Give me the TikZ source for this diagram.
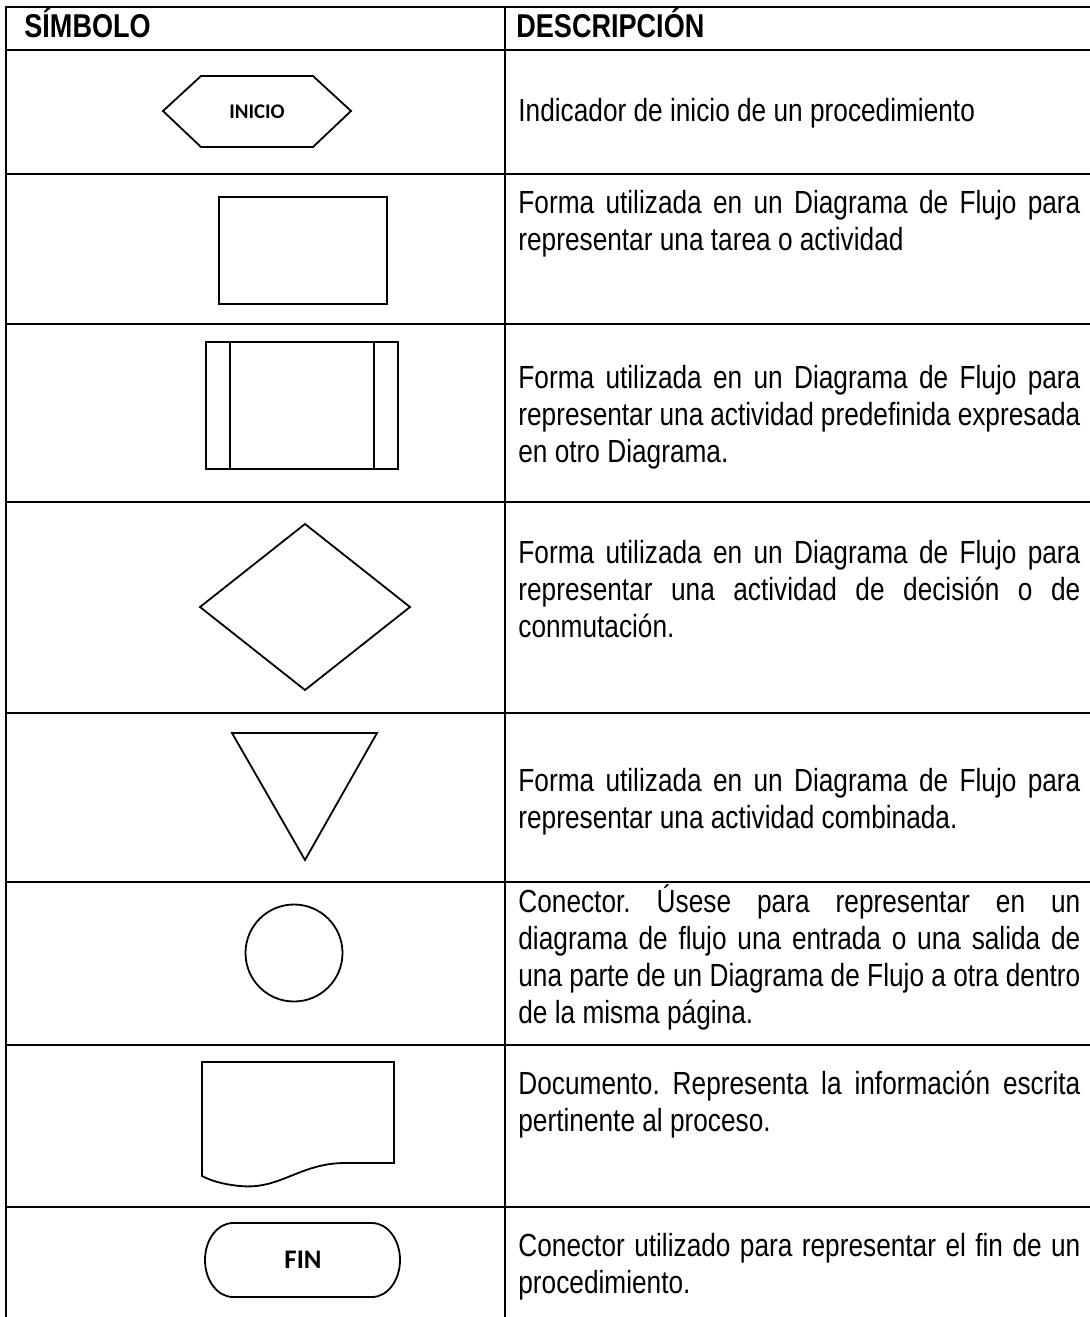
\documentclass[tikz,border=0pt]{standalone}
\usepackage{fontspec}
\setmainfont{Liberation Sans}[FakeStretch=0.82]
\newfontfamily\calfont{Carlito}
\frenchspacing

\begin{document}
\begin{tikzpicture}[x=0.5pt, y=-0.5pt]
    \tikzstyle{rule}=[line width=1.4pt]
    \tikzstyle{symb}=[line width=0.9pt, line join=miter]
    \tikzstyle{desc}=[anchor=base west, inner sep=0pt, text width=281pt, align=justify,
        font=\fontsize{16}{18.5}\selectfont]
    \tikzstyle{head}=[anchor=base west, inner sep=0pt, font=\fontsize{16.5}{19}\selectfont\bfseries]
    \tikzstyle{label}=[inner sep=0pt, font=\calfont\bfseries]

    \useasboundingbox (0,0) rectangle (1090,1317);

    % table
    \draw[rule] (1090,7) -- (6,7) -- (6,1317);
    \draw[rule] (505,7) -- (505,1317);
    \foreach \y in {50,174,324,502,713,882,1045,1207}
        \draw[rule] (6,\y) -- (1090,\y);

    \node[head] (h_0) at (24,38) {SÍMBOLO};
    \node[head] (h_1) at (516,38) {DESCRIPCIÓN};

    % inicio
    \draw[symb] (163,111) -- (201,76) -- (313,76) -- (351,111) -- (313,147) -- (201,147) -- cycle;
    \node[label, font=\calfont\bfseries\fontsize{10.4}{12}\selectfont] (s_0) at (257,112) {INICIO};
    \node[desc] (d_0) at (518,121) {Indicador de inicio de un procedimiento};

    % tarea
    \draw[symb] (219,197) rectangle (387,304);
    \node[desc] (d_1) at (518,213) {Forma utilizada en un Diagrama de Flujo para\linebreak
        representar una tarea o actividad};

    % predefinida
    \draw[symb] (206,342) rectangle (398,469);
    \draw[symb] (230,342) -- (230,469);
    \draw[symb] (374,342) -- (374,469);
    \node[desc] (d_2) at (518,388) {Forma utilizada en un Diagrama de Flujo para\linebreak
        representar una actividad predefinida expresada\linebreak en otro Diagrama.};

    % decision
    \draw[symb] (200,607) -- (305,524) -- (410,607) -- (305,690) -- cycle;
    \node[desc] (d_3) at (518,563) {Forma utilizada en un Diagrama de Flujo para\linebreak
        representar una actividad de decisión o de\linebreak conmutación.};

    % combinada
    \draw[symb] (232,733) -- (377,733) -- (305,860) -- cycle;
    \node[desc] (d_4) at (518,791) {Forma utilizada en un Diagrama de Flujo para\linebreak
        representar una actividad combinada.};

    % conector
    \draw[symb] (294,953) circle[radius=48.5];
    \node[desc] (d_5) at (518,912) {Conector. Úsese para representar en un\linebreak
        diagrama de flujo una entrada o una salida de\linebreak
        una parte de un Diagrama de Flujo a otra dentro\linebreak de la misma página.};

    % documento
    \draw[symb] (202,1062) -- (394,1062) -- (394,1163) -- (345,1163)
        .. controls (300,1163) and (280,1190) .. (240,1186)
        .. controls (220,1184) and (210,1180) .. (202,1176) -- cycle;
    \node[desc] (d_6) at (518,1094) {Documento. Representa la información escrita\linebreak
        pertinente al proceso.};

    % fin
    \draw[symb] (233,1223) -- (372,1223)
        .. controls (387.5,1223) and (400,1239.6) .. (400,1260)
        .. controls (400,1280.4) and (387.5,1297) .. (372,1297) -- (233,1297)
        .. controls (217.5,1297) and (205,1280.4) .. (205,1260)
        .. controls (205,1239.6) and (217.5,1223) .. (233,1223) -- cycle;
    \node[label, font=\calfont\bfseries\fontsize{13.4}{15}\selectfont] (s_7) at (303,1260) {FIN};
    \node[desc] (d_7) at (518,1256) {Conector utilizado para representar el fin de un\linebreak
        procedimiento.};

\end{tikzpicture}
\end{document}
